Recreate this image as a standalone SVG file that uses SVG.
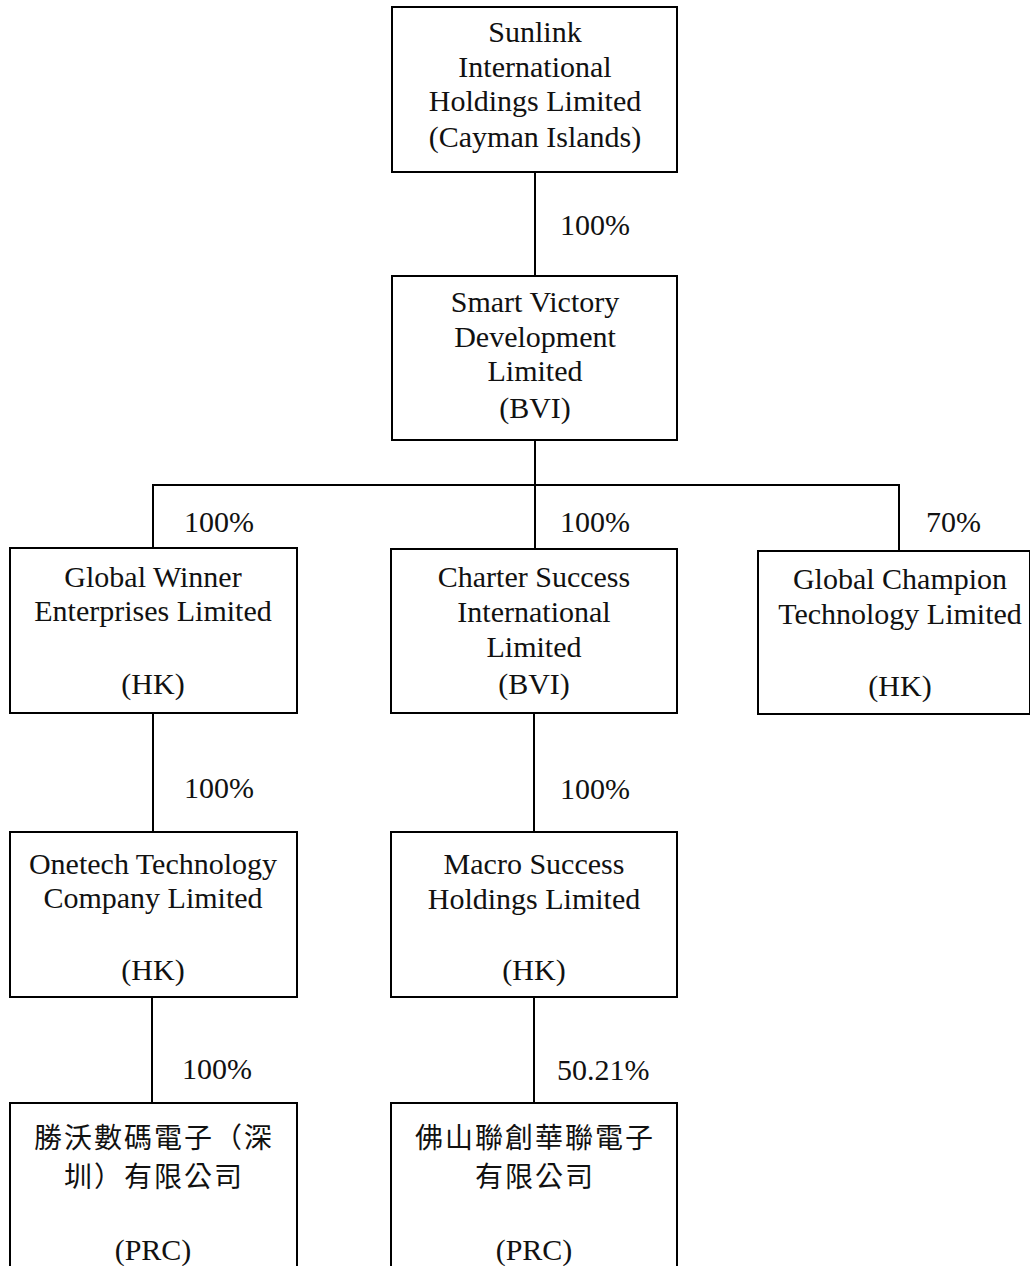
<svg xmlns="http://www.w3.org/2000/svg" width="1030" height="1266" viewBox="0 0 1030 1266" font-family="'Liberation Serif', 'DejaVu Serif', serif">
<style>
.box{fill:#fff;stroke:#000;stroke-width:2}
.ln{fill:none;stroke:#000;stroke-width:2}
text{font-family:'Liberation Serif','DejaVu Serif',serif;font-size:30px;fill:#111}
.c{text-anchor:middle}
.cjk{font-family:'Liberation Serif','Noto Sans CJK TC',serif;font-size:28px;letter-spacing:2px}
</style>
<rect width="1030" height="1266" fill="#fff"/>
<g id="connectors">
<path class="ln" d="M535 172V276"/>
<path class="ln" d="M535 440V548"/>
<path class="ln" d="M153 548V485H899V551"/>
<path class="ln" d="M153 713V832"/>
<path class="ln" d="M534 713V832"/>
<path class="ln" d="M152 997V1103"/>
<path class="ln" d="M534 997V1103"/>
<text x="560" y="235">100%</text>
<text x="184" y="532">100%</text>
<text x="560" y="532">100%</text>
<text x="926" y="532">70%</text>
<text x="184" y="798">100%</text>
<text x="560" y="799">100%</text>
<text x="182" y="1079">100%</text>
<text x="557" y="1080">50.21%</text>
</g>
<g id="sunlink">
<rect class="box" x="392" y="7" width="285" height="165"/>
<text class="c" x="535" y="42">Sunlink</text>
<text class="c" x="535" y="77">International</text>
<text class="c" x="535" y="111">Holdings Limited</text>
<text class="c" x="535" y="147">(Cayman Islands)</text>
</g>
<g id="smart-victory">
<rect class="box" x="392" y="276" width="285" height="164"/>
<text class="c" x="535" y="312">Smart Victory</text>
<text class="c" x="535" y="347">Development</text>
<text class="c" x="535" y="381">Limited</text>
<text class="c" x="535" y="418">(BVI)</text>
</g>
<g id="global-winner">
<rect class="box" x="10" y="548" width="287" height="165"/>
<text class="c" x="153" y="587">Global Winner</text>
<text class="c" x="153" y="621">Enterprises Limited</text>
<text class="c" x="153" y="694">(HK)</text>
</g>
<g id="charter-success">
<rect class="box" x="391" y="549" width="286" height="164"/>
<text class="c" x="534" y="587">Charter Success</text>
<text class="c" x="534" y="622">International</text>
<text class="c" x="534" y="657">Limited</text>
<text class="c" x="534" y="694">(BVI)</text>
</g>
<g id="global-champion">
<rect class="box" x="758" y="551" width="272" height="163"/>
<text class="c" x="900" y="589">Global Champion</text>
<text class="c" x="900" y="624">Technology Limited</text>
<text class="c" x="900" y="696">(HK)</text>
</g>
<g id="onetech">
<rect class="box" x="10" y="832" width="287" height="165"/>
<text class="c" x="153" y="874">Onetech Technology</text>
<text class="c" x="153" y="908">Company Limited</text>
<text class="c" x="153" y="980">(HK)</text>
</g>
<g id="macro-success">
<rect class="box" x="391" y="832" width="286" height="165"/>
<text class="c" x="534" y="874">Macro Success</text>
<text class="c" x="534" y="909">Holdings Limited</text>
<text class="c" x="534" y="980">(HK)</text>
</g>
<g id="shengwo">
<rect class="box" x="10" y="1103" width="287" height="180"/>
<text class="c cjk" x="154" y="1148">勝沃數碼電子（深</text>
<text class="c cjk" x="154" y="1187">圳）有限公司</text>
<text class="c" x="153" y="1260">(PRC)</text>
</g>
<g id="foshan">
<rect class="box" x="391" y="1103" width="286" height="180"/>
<text class="c cjk" x="535" y="1148">佛山聯創華聯電子</text>
<text class="c cjk" x="535" y="1187">有限公司</text>
<text class="c" x="534" y="1260">(PRC)</text>
</g>
</svg>
